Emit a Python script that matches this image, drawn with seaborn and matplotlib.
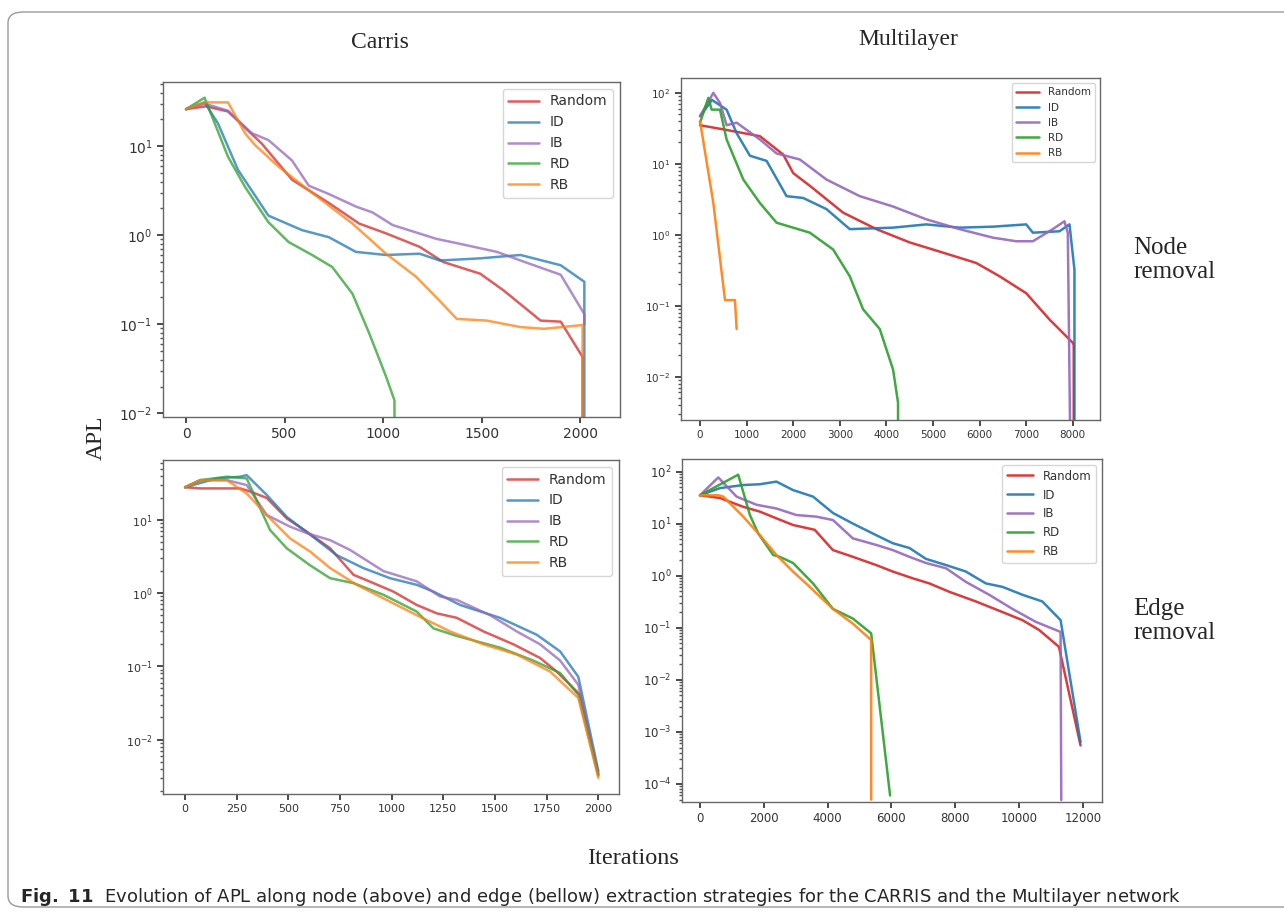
import pandas as pd
import matplotlib.pyplot as plt
import seaborn as sns
from matplotlib.patches import FancyBboxPatch

# --- Dados (APL vs iterações) ---
STRATEGIES = ['Random', 'ID', 'IB', 'RD', 'RB']
COLORS = {'Random': '#d62728', 'ID': '#1f77b4', 'IB': '#9467bd',
          'RD': '#2ca02c', 'RB': '#ff7f0e'}
FLOOR = 1e-6  # queda até "zero" (fora do eixo log)

# Carris - remoção de nós
carris_node_random_x = [0, 100, 213, 384, 538, 725, 879, 1015, 1186, 1306, 1493, 1612, 1800, 1902, 2013, 2013]
carris_node_random_y = [26, 28, 24.5, 10.7, 4.2, 2.3, 1.35, 1.05, 0.74, 0.5, 0.37, 0.24, 0.11, 0.107, 0.043, FLOOR]
carris_node_id_x = [0, 94, 162, 264, 418, 589, 725, 862, 1015, 1186, 1288, 1493, 1698, 1902, 2022, 2022]
carris_node_id_y = [26, 31, 18, 5.4, 1.66, 1.14, 0.95, 0.65, 0.6, 0.62, 0.52, 0.55, 0.6, 0.46, 0.30, FLOOR]
carris_node_ib_x = [0, 94, 213, 333, 418, 538, 623, 725, 862, 947, 1049, 1271, 1391, 1578, 1698, 1902, 2022, 2022]
carris_node_ib_y = [26, 30, 25, 14, 11.7, 6.9, 3.6, 2.9, 2.1, 1.8, 1.3, 0.91, 0.8, 0.65, 0.52, 0.36, 0.13, 0.1]
carris_node_rd_x = [0, 94, 213, 299, 418, 520, 640, 742, 845, 930, 1015, 1058, 1065]
carris_node_rd_y = [26, 35, 7.6, 3.5, 1.4, 0.84, 0.6, 0.44, 0.22, 0.079, 0.026, 0.014, FLOOR]
carris_node_rb_x = [0, 94, 213, 299, 350, 469, 623, 845, 1015, 1169, 1271, 1374, 1527, 1698, 1817, 2013, 2013]
carris_node_rb_y = [26, 31, 31, 14, 10.3, 5.9, 3.2, 1.35, 0.62, 0.34, 0.2, 0.115, 0.11, 0.093, 0.089, 0.098, FLOOR]

# Multilayer - remoção de nós
multi_node_random_x = [0, 571, 1286, 1786, 2000, 2357, 3071, 3786, 4500, 5214, 5929, 6429, 7000, 7500, 8000, 8020, 8020]
multi_node_random_y = [35, 30, 24.5, 13.5, 7.4, 4.9, 2.05, 1.2, 0.78, 0.56, 0.4, 0.26, 0.15, 0.064, 0.03, 0.028, FLOOR]
multi_node_id_x = [0, 214, 250, 571, 786, 1071, 1429, 1857, 2214, 2714, 3214, 4143, 4857, 5571, 6286, 7000, 7143, 7714, 7929, 8036, 8036]
multi_node_id_y = [47, 72, 80, 58, 27, 13, 11, 3.5, 3.3, 2.3, 1.2, 1.26, 1.4, 1.26, 1.3, 1.4, 1.07, 1.12, 1.4, 0.32, FLOOR]
multi_node_ib_x = [0, 286, 429, 571, 786, 1286, 1643, 2143, 2714, 3429, 4143, 4857, 5571, 6286, 6786, 7143, 7571, 7821, 7893, 8000]
multi_node_ib_y = [47, 100, 72, 35, 38, 22, 14, 11.5, 6, 3.5, 2.5, 1.65, 1.2, 0.91, 0.81, 0.81, 1.2, 1.55, 1.07, FLOOR]
multi_node_rd_x = [0, 179, 250, 429, 571, 929, 1286, 1643, 2357, 2857, 3214, 3500, 3857, 4143, 4250, 4250]
multi_node_rd_y = [38, 85, 58, 58, 22, 6, 2.8, 1.48, 1.07, 0.62, 0.26, 0.089, 0.047, 0.0126, 0.0043, FLOOR]
multi_node_rb_x = [0, 286, 536, 750, 786]
multi_node_rb_y = [40, 2.8, 0.12, 0.12, 0.047]

# Carris - remoção de arestas
carris_edge_random_x = [0, 73, 266, 315, 395, 492, 589, 702, 815, 879, 1008, 1121, 1218, 1315, 1444, 1589, 1718, 1798, 1911, 2000]
carris_edge_random_y = [28, 27, 27, 24.5, 20, 10.5, 6.9, 4.1, 1.78, 1.5, 1.05, 0.69, 0.53, 0.46, 0.30, 0.2, 0.13, 0.085, 0.041, 0.0033]
carris_edge_id_x = [0, 153, 266, 298, 395, 492, 605, 734, 863, 992, 1121, 1202, 1331, 1524, 1702, 1815, 1903, 2000]
carris_edge_id_y = [28, 37, 39, 41, 22, 11, 6.3, 3.3, 2.2, 1.6, 1.3, 1.05, 0.69, 0.46, 0.27, 0.16, 0.072, 0.0037]
carris_edge_ib_x = [0, 73, 202, 298, 395, 508, 589, 702, 798, 960, 1121, 1234, 1315, 1476, 1605, 1718, 1815, 1903, 2000]
carris_edge_ib_y = [28, 35, 35, 30, 11.7, 8.1, 6.6, 5.3, 3.9, 2.0, 1.45, 0.9, 0.81, 0.5, 0.3, 0.2, 0.12, 0.056, 0.0034]
carris_edge_rd_x = [0, 73, 202, 298, 363, 411, 492, 605, 702, 815, 960, 1121, 1202, 1315, 1524, 1685, 1815, 1903, 2000]
carris_edge_rd_y = [28, 35, 39, 37, 14.5, 7.3, 4.1, 2.4, 1.6, 1.37, 0.95, 0.56, 0.33, 0.26, 0.18, 0.12, 0.081, 0.041, 0.0032]
carris_edge_rb_x = [0, 73, 202, 298, 395, 508, 605, 702, 831, 960, 1121, 1282, 1444, 1605, 1766, 1903, 2000]
carris_edge_rb_y = [28, 35, 35, 23, 11.7, 5.6, 3.7, 2.2, 1.3, 0.85, 0.5, 0.3, 0.2, 0.145, 0.085, 0.037, 0.003]

# Multilayer - remoção de arestas
multi_edge_random_x = [0, 625, 1354, 1875, 2396, 2917, 3594, 4167, 4792, 5521, 6042, 6667, 7188, 7813, 8646, 9479, 10104, 10625, 11250, 11927]
multi_edge_random_y = [35, 31, 21, 17, 12.6, 9.4, 7.6, 3.1, 2.3, 1.6, 1.2, 0.89, 0.71, 0.49, 0.32, 0.2, 0.14, 0.091, 0.043, 0.00055]
multi_edge_id_x = [0, 625, 1354, 1875, 2396, 2917, 3542, 4167, 4792, 5521, 6042, 6563, 7083, 7708, 8333, 8958, 9479, 10104, 10729, 11302, 11927]
multi_edge_id_y = [35, 48, 55, 57, 64, 44, 33, 16, 10, 6, 4.2, 3.4, 2.1, 1.6, 1.2, 0.71, 0.61, 0.43, 0.32, 0.14, 0.00064]
multi_edge_ib_x = [0, 573, 1146, 1771, 2396, 3021, 3646, 4167, 4792, 5521, 6042, 6563, 7083, 7708, 8333, 9063, 9792, 10521, 11302, 11323]
multi_edge_ib_y = [35, 77, 33, 23, 19.5, 14.6, 13.6, 11.7, 5.2, 3.9, 3.1, 2.3, 1.75, 1.39, 0.76, 0.43, 0.23, 0.13, 0.083, 0.000049]
multi_edge_rd_x = [0, 1198, 1563, 1823, 2292, 2500, 2917, 3542, 4167, 4792, 5365, 5958]
multi_edge_rd_y = [35, 87, 14.7, 6.5, 2.5, 2.3, 1.75, 0.71, 0.23, 0.15, 0.078, 0.00006]
multi_edge_rb_x = [0, 573, 729, 1354, 1875, 2396, 2917, 3438, 4167, 4792, 5365, 5365]
multi_edge_rb_y = [35, 35, 33, 13.6, 6, 2.5, 1.2, 0.61, 0.23, 0.12, 0.058, 0.00005]


def montar(series):
    linhas = []
    for nome, (xs, ys) in zip(STRATEGIES, series):
        for ordem, (x, y) in enumerate(zip(xs, ys)):
            linhas.append({'Estrategia': nome, 'ordem': ordem, 'Iter': x, 'APL': y})
    return pd.DataFrame(linhas)


paineis = [
    # (séries, [left, right, top, bottom] em px, xlim, ylim, xticks, tick size, legend size, alpha)
    (montar([(carris_node_random_x, carris_node_random_y), (carris_node_id_x, carris_node_id_y),
             (carris_node_ib_x, carris_node_ib_y), (carris_node_rd_x, carris_node_rd_y),
             (carris_node_rb_x, carris_node_rb_y)]),
     (163, 620, 82, 417), (-117, 2203), (0.0091, 52.5), [0, 500, 1000, 1500, 2000], 10, 10, 0.75),
    (montar([(multi_node_random_x, multi_node_random_y), (multi_node_id_x, multi_node_id_y),
             (multi_node_ib_x, multi_node_ib_y), (multi_node_rd_x, multi_node_rd_y),
             (multi_node_rb_x, multi_node_rb_y)]),
     (681, 1100, 78, 420), (-408, 8584), (0.00245, 162), list(range(0, 9000, 1000)), 7.5, 7.5, 0.9),
    (montar([(carris_edge_random_x, carris_edge_random_y), (carris_edge_id_x, carris_edge_id_y),
             (carris_edge_ib_x, carris_edge_ib_y), (carris_edge_rd_x, carris_edge_rd_y),
             (carris_edge_rb_x, carris_edge_rb_y)]),
     (163, 619, 460, 794), (-107, 2100), (0.0018, 66), list(range(0, 2250, 250)), 8, 10, 0.75),
    (montar([(multi_edge_random_x, multi_edge_random_y), (multi_edge_id_x, multi_edge_id_y),
             (multi_edge_ib_x, multi_edge_ib_y), (multi_edge_rd_x, multi_edge_rd_y),
             (multi_edge_rb_x, multi_edge_rb_y)]),
     (682, 1102, 459, 802), (-564, 12600), (4.5e-5, 174), list(range(0, 14000, 2000)), 8.5, 8.5, 0.9),
]

W, H = 1284, 919
sns.set_theme(style="ticks")
plt.rcParams['font.family'] = ['DejaVu Sans']
plt.rcParams['mathtext.fontset'] = 'dejavusans'
fig = plt.figure(figsize=(W / 100, H / 100), dpi=100)

# moldura arredondada
fig.patches.append(FancyBboxPatch((8 / W, 1 - 907 / H), 1.2, (907 - 12) / H,
                                  boxstyle="round,pad=0,rounding_size=0.012",
                                  transform=fig.transFigure, fill=False,
                                  edgecolor='#9a9a9a', linewidth=1.0))

for df, (l, r, t, b), xlim, ylim, xticks, fs, lfs, alpha in paineis:
    ax = fig.add_axes([l / W, 1 - b / H, (r - l) / W, (b - t) / H])
    sns.lineplot(data=df, x='Iter', y='APL', hue='Estrategia', units='Estrategia',
                 estimator=None, sort=False, palette=COLORS, hue_order=STRATEGIES,
                 linewidth=1.8, alpha=alpha, ax=ax)
    ax.set_yscale('log')
    ax.set_xlim(*xlim)
    ax.set_ylim(*ylim)
    ax.set_xticks(xticks)
    ax.set_xlabel('')
    ax.set_ylabel('')
    ax.tick_params(labelsize=fs, colors='#333333', length=4)
    ax.tick_params(which='minor', length=2, colors='#555555')
    for s in ax.spines.values():
        s.set_color('#666666')
        s.set_linewidth(1.0)
    leg = ax.legend(loc='upper right', fontsize=lfs, frameon=True, handlelength=2.2)
    leg.get_frame().set_edgecolor('#cccccc')
    for txt in leg.get_texts():
        txt.set_color('#333333')

serif = ['Liberation Serif', 'DejaVu Serif']
fig.text(380 / W, 1 - 42 / H, 'Carris', ha='center', va='center', fontsize=17, family=serif)
fig.text(908 / W, 1 - 40 / H, 'Multilayer', ha='center', va='center', fontsize=17, family=serif)
fig.text(96 / W, 1 - 438 / H, 'APL', ha='center', va='center', rotation=90, fontsize=17, family=serif)
fig.text(1133 / W, 1 - 260 / H, 'Node\nremoval', ha='left', va='center', fontsize=18,
         family=serif, linespacing=1.1)
fig.text(1133 / W, 1 - 621 / H, 'Edge\nremoval', ha='left', va='center', fontsize=18,
         family=serif, linespacing=1.1)
fig.text(633 / W, 1 - 859 / H, 'Iterations', ha='center', va='center', fontsize=17.5, family=serif)

# legenda da figura
fig.text(20 / W, 1 - 897 / H,
         r'$\mathbf{Fig.\ 11}$  Evolution of APL along node (above) and edge (bellow) extraction '
         'strategies for the CARRIS and the Multilayer network',
         ha='left', va='center', fontsize=13, family=['DejaVu Sans'])

plt.savefig('out.png', dpi=100)
